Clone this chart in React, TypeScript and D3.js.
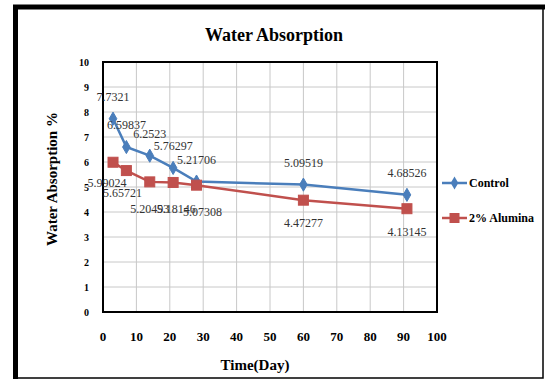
import React from "react";
import * as d3 from "d3";

const days = [3, 7, 14, 21, 28, 60, 91];
const controlValues = [7.7321, 6.59837, 6.2523, 5.76297, 5.21706, 5.09519, 4.68526];
const aluminaValues = [5.99024, 5.65721, 5.20493, 5.18146, 5.07308, 4.47277, 4.13145];
const controlLabels = ["7.7321", "6.59837", "6.2523", "5.76297", "5.21706", "5.09519", "4.68526"];
const aluminaLabels = ["5.99024", "5.65721", "5.20493", "5.18146", "5.07308", "4.47277", "4.13145"];
const xTicks = [0, 10, 20, 30, 40, 50, 60, 70, 80, 90, 100];
const yTicks = [0, 1, 2, 3, 4, 5, 6, 7, 8, 9, 10];
const seriesNames = ["Control", "2% Alumina"];

const W = 546, H = 385;
const left = 103, right = 437, top = 62, bottom = 312;
const serif = "'Liberation Serif', 'DejaVu Serif', serif";

export default function App() {
  const x = d3.scaleLinear().domain([0, 100]).range([left, right]);
  const y = d3.scaleLinear().domain([0, 10]).range([bottom, top]);
  const line = d3.line<[number, number]>().x(d => x(d[0])).y(d => y(d[1]));
  const cPts: [number, number][] = days.map((d, i) => [d, controlValues[i]]);
  const aPts: [number, number][] = days.map((d, i) => [d, aluminaValues[i]]);
  const blue = "#4a7ebb";
  const red = "#c0504d";
  const diamond = d3.symbol().type(d3.symbolDiamond).size(50);
  // label anchor nudges (style only)
  const aDx = [-6, -4, 0, 3, 6, 0, 0];
  const aDy = [25, 26, 31, 31, 31, 27, 27];

  return (
    <svg width={W} height={H} style={{ position: "absolute", left: 0, top: 0, background: "#fff" }}>
      <rect x={0} y={0} width={W} height={H} fill="#fff" />
      {/* outer frame */}
      <rect x={15} y={7} width={528} height={371} fill="none" stroke="#000" strokeWidth={1.5} />
      <line x1={15.5} y1={5} x2={15.5} y2={379} stroke="#000" strokeWidth={5} />
      <line x1={13} y1={7} x2={545} y2={7} stroke="#000" strokeWidth={5} />

      <text x={274} y={41} textAnchor="middle" fontFamily={serif} fontWeight="bold" fontSize={18}>Water Absorption</text>

      {/* grid */}
      {xTicks.map(t => (
        <line key={"gx" + t} x1={x(t)} x2={x(t)} y1={top} y2={bottom} stroke="#c8c8c8" strokeWidth={1} />
      ))}
      {yTicks.map(t => (
        <line key={"gy" + t} x1={left} x2={right} y1={y(t)} y2={y(t)} stroke="#c8c8c8" strokeWidth={1} />
      ))}
      <rect x={left} y={top} width={right - left} height={bottom - top} fill="none" stroke="#000" strokeWidth={2} />

      {/* ticks */}
      {yTicks.map(t => (
        <text key={"yt" + t} x={89} y={y(t) + 3.5} textAnchor="end" fontFamily={serif} fontWeight="bold" fontSize={10}>{t}</text>
      ))}
      {xTicks.map(t => (
        <text key={"xt" + t} x={x(t)} y={341} textAnchor="middle" fontFamily={serif} fontWeight="bold" fontSize={13}>{t}</text>
      ))}

      <text x={255} y={370} textAnchor="middle" fontFamily={serif} fontWeight="bold" fontSize={15}>Time(Day)</text>
      <text transform={`translate(57,179) rotate(-90)`} textAnchor="middle" fontFamily={serif} fontWeight="bold" fontSize={15}>Water Absorption %</text>

      {/* series */}
      <path d={line(cPts) || ""} fill="none" stroke={blue} strokeWidth={2.5} />
      <path d={line(aPts) || ""} fill="none" stroke={red} strokeWidth={2.5} />
      {cPts.map((p, i) => (
        <path key={"cm" + i} d={diamond() || ""} transform={`translate(${x(p[0])},${y(p[1])})`} fill={blue} stroke={blue} />
      ))}
      {aPts.map((p, i) => (
        <rect key={"am" + i} x={x(p[0]) - 5} y={y(p[1]) - 5} width={10} height={10} fill={red} stroke={red} />
      ))}

      {/* data labels */}
      {cPts.map((p, i) => (
        <text key={"cl" + i} x={x(p[0])} y={y(p[1]) - 18} textAnchor="middle" fontFamily={serif} fontSize={12} fill="#333">{controlLabels[i]}</text>
      ))}
      {aPts.map((p, i) => (
        <text key={"al" + i} x={x(p[0]) + aDx[i]} y={y(p[1]) + aDy[i]} textAnchor="middle" fontFamily={serif} fontSize={12} fill="#333">{aluminaLabels[i]}</text>
      ))}

      {/* legend */}
      <line x1={442} x2={467} y1={183} y2={183} stroke={blue} strokeWidth={2.5} />
      <path d={diamond() || ""} transform="translate(454.5,183)" fill={blue} />
      <text x={469} y={187} fontFamily={serif} fontWeight="bold" fontSize={12}>{seriesNames[0]}</text>
      <line x1={442} x2={467} y1={218} y2={218} stroke={red} strokeWidth={2.5} />
      <rect x={449.5} y={213} width={10} height={10} fill={red} />
      <text x={469} y={222} fontFamily={serif} fontWeight="bold" fontSize={12}>{seriesNames[1]}</text>
    </svg>
  );
}
